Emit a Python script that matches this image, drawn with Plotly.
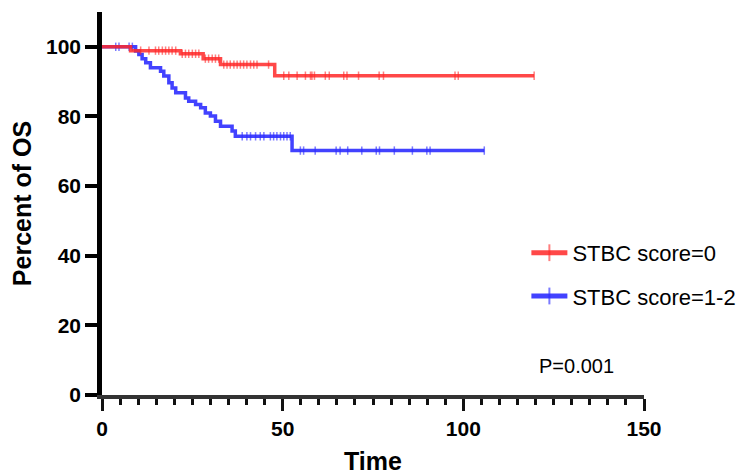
import plotly.graph_objects as go

# ---- data ----
red_name = "STBC score=0"
red_event_times = [7.9, 21.7, 28.0, 32.8, 47.8]
red_event_surv = [98.9, 98.0, 96.6, 94.9, 91.7]
red_censor_times = [10.7, 13.0, 14.8, 15.7, 16.7, 17.6, 18.5, 19.4, 20.4, 22.2, 23.1, 24.0,
                    25.0, 25.9, 26.8, 28.6, 29.5, 30.5, 31.4, 32.3, 33.7, 34.6, 35.5, 36.5,
                    37.4, 38.3, 39.2, 40.1, 41.1, 42.0, 42.9, 46.1, 50.3, 51.7, 54.0, 56.3,
                    57.7, 58.1, 58.8, 61.8, 62.9, 66.9, 67.8, 71.0, 76.7, 77.9, 97.7, 98.6,
                    119.6]

blue_name = "STBC score=1-2"
blue_event_times = [9.3, 10.2, 11.1, 12.1, 13.4, 16.2, 17.1, 18.5, 19.4, 20.4, 23.1, 24.0,
                    25.9, 27.3, 28.6, 30.0, 31.4, 32.8, 36.0, 36.9, 52.6]
blue_event_surv = [98.8, 97.8, 96.6, 95.4, 94.0, 93.0, 91.6, 89.7, 88.2, 86.8, 85.3, 84.4,
                   83.4, 82.5, 81.0, 80.1, 78.6, 77.2, 75.8, 74.3, 70.2]
blue_censor_times = [3.8, 4.7, 7.5, 8.4, 38.8, 40.1, 41.1, 42.5, 43.8, 44.8, 46.6, 47.5,
                     48.4, 49.4, 50.3, 51.2, 52.1, 54.9, 55.8, 59.0, 64.8, 65.9, 68.0, 71.9,
                     75.9, 76.8, 80.9, 85.9, 89.9, 90.8, 105.8]

x_ticks = [0, 50, 100, 150]
y_ticks = [0, 20, 40, 60, 80, 100]
p_text = "P=0.001"

FONT = "Liberation Sans, Arial, sans-serif"


def km_points(ev_t, ev_s, cens_t):
    pts = [(0.0, 100.0, 0)]
    for t, s in zip(ev_t, ev_s):
        pts.append((t, s, 0))
    events = list(zip(ev_t, ev_s))
    for c in cens_t:
        s = 100.0
        for t, v in events:
            if t <= c:
                s = v
        pts.append((c, s, 6))
    pts.sort(key=lambda p: (p[0], -p[1]))
    xs = [p[0] for p in pts]
    ys = [p[1] for p in pts]
    sz = [p[2] for p in pts]
    return xs, ys, sz


fig = go.Figure()

BLUE = "rgba(45,45,255,0.9)"
RED = "rgba(255,40,40,0.85)"

bx, by, bs = km_points(blue_event_times, blue_event_surv, blue_censor_times)
fig.add_trace(go.Scatter(
    x=bx, y=by, mode="lines+markers", name=blue_name, legend="legend2",
    line=dict(color=BLUE, width=3.5, shape="hv"),
    marker=dict(symbol="line-ns", size=bs, color=BLUE, line=dict(color=BLUE, width=1.5)),
    cliponaxis=False,
))

rx, ry, rs = km_points(red_event_times, red_event_surv, red_censor_times)
fig.add_trace(go.Scatter(
    x=rx, y=ry, mode="lines+markers", name=red_name, legend="legend",
    line=dict(color=RED, width=3.5, shape="hv"),
    marker=dict(symbol="line-ns", size=rs, color=RED, line=dict(color=RED, width=1.5)),
    cliponaxis=False,
))

fig.add_annotation(
    text=p_text, xref="paper", yref="paper", x=0.803, y=0.076,
    xanchor="left", yanchor="middle", showarrow=False,
    font=dict(family=FONT, size=20, color="black"),
)

legend_common = dict(
    xref="paper", yref="paper", xanchor="left", yanchor="middle",
    font=dict(family=FONT, size=22, color="black"),
    bgcolor="rgba(0,0,0,0)", itemsizing="constant", itemwidth=36,
)

fig.update_layout(
    width=750, height=474,
    margin=dict(l=94, r=114, t=4, b=87, autoexpand=False),
    paper_bgcolor="white", plot_bgcolor="white",
    showlegend=True,
    legend=dict(x=0.783, y=0.371, **legend_common),
    legend2=dict(x=0.783, y=0.258, **legend_common),
    xaxis=dict(
        range=[0, 150], tickmode="array", tickvals=x_ticks, automargin=False,
        showline=True, linecolor="#333333", linewidth=4,
        ticks="outside", ticklen=12, tickwidth=3, tickcolor="#111111",
        minor=dict(dtick=5, ticks="outside", ticklen=6, tickwidth=3, tickcolor="#111111"),
        showgrid=False, zeroline=False,
        tickfont=dict(family=FONT, size=21, color="black", weight="bold"),
        title=dict(text="Time", font=dict(family=FONT, size=25, color="black", weight="bold"),
                   standoff=14),
    ),
    yaxis=dict(
        range=[0, 110], tickmode="array", tickvals=y_ticks, automargin=False,
        showline=True, linecolor="black", linewidth=4.5,
        ticks="outside", ticklen=12, tickwidth=4, tickcolor="black",
        showgrid=False, zeroline=False,
        tickfont=dict(family=FONT, size=21, color="black", weight="bold"),
        title=dict(text="Percent of OS", font=dict(family=FONT, size=25, color="black", weight="bold"),
                   standoff=20),
    ),
)

fig.write_html("out.html")
